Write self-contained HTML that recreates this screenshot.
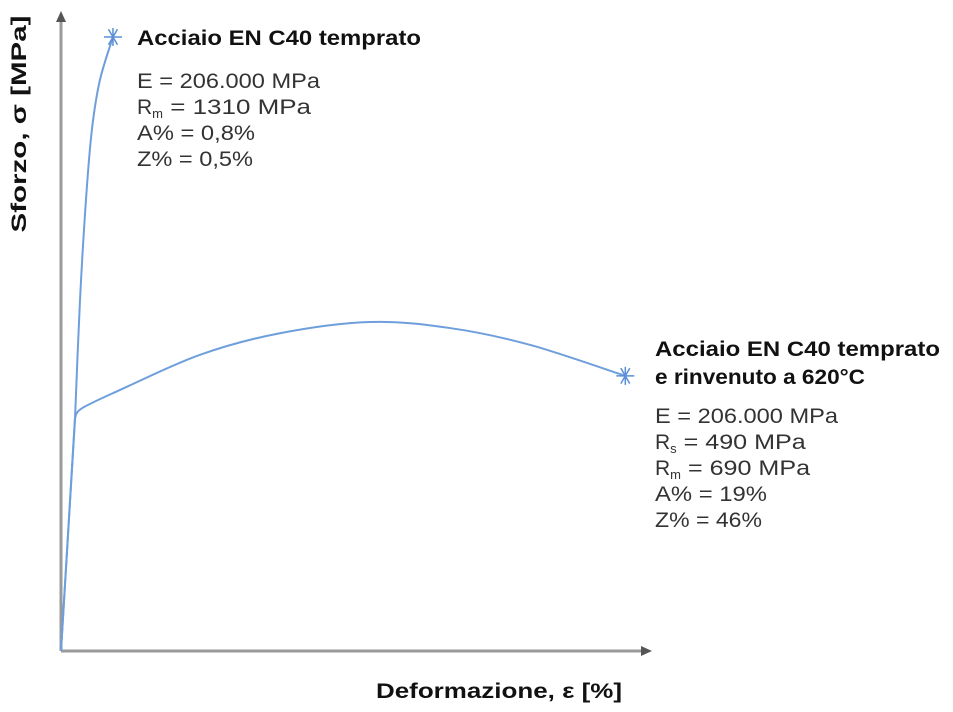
<!DOCTYPE html>
<html><head><meta charset="utf-8"><style>
body{margin:0;background:#fff}
svg{display:block;font-family:"Liberation Sans",Arial,sans-serif}
.t{font-weight:bold;font-size:21px;fill:#111}
.p{font-size:21px;fill:#333}
</style></head><body>
<svg id="chart" width="953" height="712" viewBox="0 0 953 712">
<g id="axes">
<line x1="61" y1="651" x2="61" y2="20" stroke="#9a9a9a" stroke-width="3"/>
<polygon points="56,22 66,22 61,11" fill="#555"/>
<line x1="61" y1="651" x2="643" y2="651" stroke="#9a9a9a" stroke-width="3"/>
<polygon points="641,646 641,656 652,651" fill="#555"/>
</g>
<text class="t" transform="translate(26,124) rotate(-90)" text-anchor="middle" textLength="217" lengthAdjust="spacingAndGlyphs">Sforzo, σ [MPa]</text>
<text class="t" x="376" y="698" textLength="246" lengthAdjust="spacingAndGlyphs">Deformazione, ε [%]</text>
<g id="series"></g>
<g>
<text class="t" x="137" y="45" textLength="284" lengthAdjust="spacingAndGlyphs">Acciaio EN C40 temprato</text>
<text class="p" x="137" y="88" textLength="183" lengthAdjust="spacingAndGlyphs">E = 206.000 MPa</text>
<text class="p" x="137" y="114">R<tspan font-size="13" dy="4">m</tspan><tspan dy="-4" textLength="148" lengthAdjust="spacingAndGlyphs"> = 1310 MPa</tspan></text>
<text class="p" x="137" y="140" textLength="118" lengthAdjust="spacingAndGlyphs">A% = 0,8%</text>
<text class="p" x="137" y="166" textLength="116" lengthAdjust="spacingAndGlyphs">Z% = 0,5%</text>
</g>
<g>
<text class="t" x="655" y="356" textLength="285" lengthAdjust="spacingAndGlyphs">Acciaio EN C40 temprato</text>
<text class="t" x="655" y="384" textLength="210" lengthAdjust="spacingAndGlyphs">e rinvenuto a 620°C</text>
<text class="p" x="655" y="423" textLength="183" lengthAdjust="spacingAndGlyphs">E = 206.000 MPa</text>
<text class="p" x="655" y="449">R<tspan font-size="13" dy="4">s</tspan><tspan dy="-4" textLength="129" lengthAdjust="spacingAndGlyphs"> = 490 MPa</tspan></text>
<text class="p" x="655" y="475">R<tspan font-size="13" dy="4">m</tspan><tspan dy="-4" textLength="129" lengthAdjust="spacingAndGlyphs"> = 690 MPa</tspan></text>
<text class="p" x="655" y="501" textLength="112" lengthAdjust="spacingAndGlyphs">A% = 19%</text>
<text class="p" x="655" y="527" textLength="107" lengthAdjust="spacingAndGlyphs">Z% = 46%</text>
</g>
</svg>
<script>
const quenchedStrain=[0,0.47,0.64,0.84,1.04,1.31,1.75];
const quenchedStress=[0,493,749,962,1112,1218,1310];
const temperedStrain=[0,0.47,0.71,1.99,4.68,7.37,10.4,13.1,15.8,19.0];
const temperedStress=[0,497,518,557,632,678,702,689,653,587];
const xS=v=>61+v*29.7, yS=v=>651-v*0.4687;
function pathFor(xs,ys){
 const p=xs.map((x,i)=>[xS(x),yS(ys[i])]);
 let d="M"+p[0][0]+","+p[0][1]+" L"+p[1][0]+","+p[1][1];
 for(let i=1;i<p.length-1;i++){
  const p0=i===1?p[1]:p[i-1],p1=p[i],p2=p[i+1],p3=p[i+2]||p2;
  const c1=[p1[0]+(p2[0]-p0[0])/6,p1[1]+(p2[1]-p0[1])/6];
  const c2=[p2[0]-(p3[0]-p1[0])/6,p2[1]-(p3[1]-p1[1])/6];
  d+=" C"+c1+" "+c2+" "+p2;
 }
 return {d,end:p[p.length-1]};
}
const g=document.getElementById('series');
const NS="http://www.w3.org/2000/svg";
[[quenchedStrain,quenchedStress,'quenched'],[temperedStrain,temperedStress,'tempered']].forEach(s=>{
 const r=pathFor(s[0],s[1]);
 const pa=document.createElementNS(NS,'path');
 pa.setAttribute('d',r.d);pa.setAttribute('fill','none');pa.setAttribute('stroke','#6e9fdc');pa.setAttribute('stroke-width','2');
 
 
 g.appendChild(pa);
 const st=document.createElementNS(NS,'g');
 
 
 const [cx,cy]=r.end;
 [0,60,120].forEach(a=>{
  const l=document.createElementNS(NS,'line');const rad=a*Math.PI/180,R=9;
  l.setAttribute('x1',cx-R*Math.cos(rad));l.setAttribute('y1',cy-R*Math.sin(rad));
  l.setAttribute('x2',cx+R*Math.cos(rad));l.setAttribute('y2',cy+R*Math.sin(rad));
  l.setAttribute('stroke','#5b8fd6');l.setAttribute('stroke-width','1.5');
  st.appendChild(l);
 });
 const v=document.createElementNS(NS,'line');
 v.setAttribute('x1',cx);v.setAttribute('y1',cy-9);v.setAttribute('x2',cx);v.setAttribute('y2',cy+9);
 v.setAttribute('stroke','#5b8fd6');v.setAttribute('stroke-width','1.5');
 st.appendChild(v);
 g.appendChild(st);
});
</script>
</body></html>
